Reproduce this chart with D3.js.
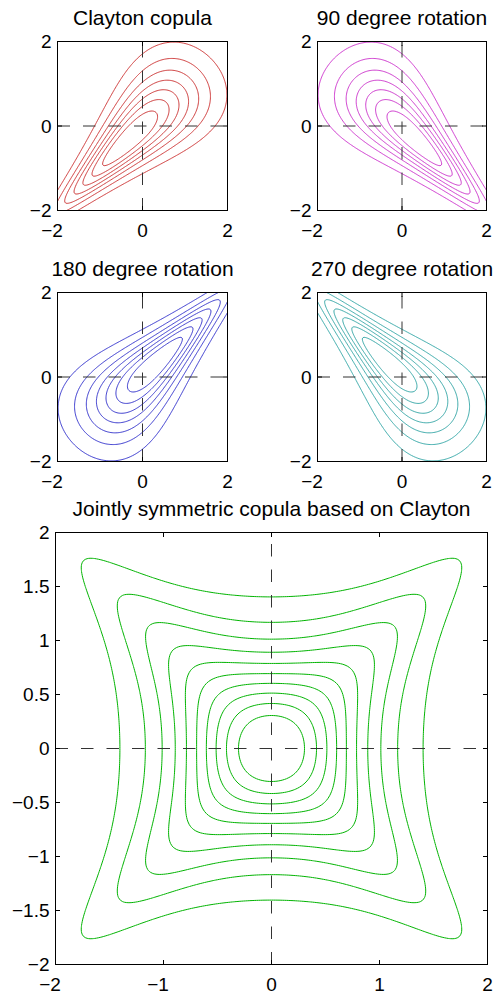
<!DOCTYPE html>
<html>
<head>
<meta charset="utf-8">
<script src="https://cdn.jsdelivr.net/npm/d3@7"></script>
<style>
  body { margin: 0; background: #fff; }
  text { font-family: "Liberation Sans", Helvetica, Arial, sans-serif; fill: #000; }
</style>
</head>
<body>
<div class="res"></div>
<script>
/**
 * DATA
 */
// Clayton copula parameter and the density levels drawn as contours
const theta = 2;
const smallLevels = [0.03, 0.06, 0.09, 0.12, 0.15, 0.18, 0.21];
const bigLevels = [0.03, 0.05, 0.07, 0.09, 0.11, 0.13, 0.15, 0.17, 0.19, 0.21];
// panel titles, rotations (sign flips of x and y) and colours
const titles = ['Clayton copula', '90 degree rotation', '180 degree rotation', '270 degree rotation'];
const flipX = [1, -1, -1, 1];
const flipY = [1, 1, -1, -1];
const colours = ['#cc3333', '#cc33cc', '#3333cc', '#33a6a6'];
const bigTitle = 'Jointly symmetric copula based on Clayton';
const bigColour = '#00b300';
// tick labels
const smallTicks = [-2, 0, 2];
const bigXTicks = [-2, -1, 0, 1, 2];
const bigYTicks = [-2, -1.5, -1, -0.5, 0, 0.5, 1, 1.5, 2];

/**
 * DENSITY (Clayton copula with standard normal margins)
 */
function erf(x) {
    const s = x < 0 ? -1 : 1;
    x = Math.abs(x);
    const t = 1 / (1 + 0.3275911 * x);
    const y = 1 - (((((1.061405429 * t - 1.453152027) * t) + 1.421413741) * t - 0.284496736) * t + 0.254829592) * t * Math.exp(-x * x);
    return s * y;
}
const Phi = x => 0.5 * (1 + erf(x / Math.SQRT2));
const phi = x => Math.exp(-x * x / 2) / Math.sqrt(2 * Math.PI);
function clayton(x, y) {
    const u = Phi(x), v = Phi(y);
    const c = (1 + theta) * Math.pow(u * v, -theta - 1) *
        Math.pow(Math.pow(u, -theta) + Math.pow(v, -theta) - 1, -2 - 1 / theta);
    return c * phi(x) * phi(y);
}

// grid a bit wider than the axes, the overflow is clipped away
const g0 = -2.1, step = 0.02, n = 211;
function grid(fn) {
    const values = new Array(n * n);
    for (let j = 0; j < n; j++)
        for (let i = 0; i < n; i++)
            values[j * n + i] = fn(g0 + i * step, g0 + j * step);
    return values;
}

/**
 * SVG
 */
const W = 493, H = 996;
const svg = d3.select('div.res')
    .append('svg')
    .attr('width', W)
    .attr('height', H);

const defs = svg.append('defs');

/**
 * DRAW ONE PANEL
 */
function panel(id, box, values, levels, colour, title, xTicks, yTicks, titleY, xLabelY) {
    const xScale = d3.scaleLinear().domain([-2, 2]).range([box.x0, box.x1]);
    const yScale = d3.scaleLinear().domain([-2, 2]).range([box.y1, box.y0]);

    defs.append('clipPath').attr('id', 'clip' + id)
        .append('rect')
        .attr('x', box.x0).attr('y', box.y0)
        .attr('width', box.x1 - box.x0).attr('height', box.y1 - box.y0);

    const g = svg.append('g');

    // contours
    const contours = d3.contours().size([n, n]).thresholds(levels)(values);
    const line = d3.line()
        .x(p => xScale(g0 + (p[0] - 0.5) * step))
        .y(p => yScale(g0 + (p[1] - 0.5) * step));
    const rings = [];
    contours.forEach(c => c.coordinates.forEach(poly => poly.forEach(r => rings.push(r))));
    g.append('g')
        .attr('clip-path', `url(#clip${id})`)
        .selectAll('path')
        .data(rings)
        .enter().append('path')
        .attr('d', r => line(r) + 'Z')
        .attr('fill', 'none')
        .attr('stroke', colour)
        .attr('stroke-width', 1);

    // dashed axes through zero
    g.append('line')
        .attr('x1', box.x0).attr('x2', box.x1)
        .attr('y1', yScale(0)).attr('y2', yScale(0))
        .attr('stroke', '#333').attr('stroke-dasharray', '12.5,13');
    g.append('line')
        .attr('x1', xScale(0)).attr('x2', xScale(0))
        .attr('y1', box.y1).attr('y2', box.y0)
        .attr('stroke', '#333').attr('stroke-dasharray', '12.5,13');

    // ticks (inward on all sides)
    const tl = 4.5;
    xTicks.forEach(t => {
        const x = xScale(t);
        g.append('line').attr('x1', x).attr('x2', x).attr('y1', box.y1).attr('y2', box.y1 - tl).attr('stroke', '#000');
        g.append('line').attr('x1', x).attr('x2', x).attr('y1', box.y0).attr('y2', box.y0 + tl).attr('stroke', '#000');
    });
    yTicks.forEach(t => {
        const y = yScale(t);
        g.append('line').attr('x1', box.x0).attr('x2', box.x0 + tl).attr('y1', y).attr('y2', y).attr('stroke', '#000');
        g.append('line').attr('x1', box.x1).attr('x2', box.x1 - tl).attr('y1', y).attr('y2', y).attr('stroke', '#000');
    });

    // box
    g.append('rect')
        .attr('x', box.x0).attr('y', box.y0)
        .attr('width', box.x1 - box.x0).attr('height', box.y1 - box.y0)
        .attr('fill', 'none').attr('stroke', '#000').attr('stroke-width', 1);

    // tick labels (the minus sign hangs left of the centred digits)
    const fmt = d => String(d).replace('-', '\u2212');
    g.selectAll('text.xl').data(xTicks).enter().append('text')
        .attr('class', 'xl')
        .attr('x', d => xScale(d) - (d < 0 ? 5.5 : 0))
        .attr('y', xLabelY)
        .attr('text-anchor', 'middle')
        .style('font-size', '19px')
        .text(fmt);
    g.selectAll('text.yl').data(yTicks).enter().append('text')
        .attr('class', 'yl')
        .attr('x', box.x0 - 6)
        .attr('y', d => yScale(d))
        .attr('dy', '0.36em')
        .attr('text-anchor', 'end')
        .style('font-size', '19px')
        .text(fmt);

    // title
    g.append('text')
        .attr('x', (box.x0 + box.x1) / 2)
        .attr('y', titleY)
        .attr('text-anchor', 'middle')
        .style('font-size', '21px')
        .text(title);
}

/**
 * LAYOUT
 */
const boxes = [
    { x0: 57.5, x1: 227.5, y0: 41.5, y1: 210.5 },
    { x0: 317.5, x1: 486.5, y0: 41.5, y1: 210.5 },
    { x0: 57.5, x1: 227.5, y0: 292.5, y1: 461.5 },
    { x0: 317.5, x1: 486.5, y0: 292.5, y1: 461.5 }
];
const titleYs = [25, 25, 276, 276];

titles.forEach((t, k) => {
    const values = grid((x, y) => clayton(flipX[k] * x, flipY[k] * y));
    panel(k, boxes[k], values, smallLevels, colours[k], t, smallTicks, smallTicks,
        titleYs[k], boxes[k].y1 + 26.5);
});

// jointly symmetric: average of the four rotations
const bigValues = grid((x, y) =>
    (clayton(x, y) + clayton(-x, y) + clayton(-x, -y) + clayton(x, -y)) / 4);
panel(4, { x0: 55.5, x1: 487.5, y0: 532.5, y1: 964.5 }, bigValues, bigLevels, bigColour,
    bigTitle, bigXTicks, bigYTicks, 516, 991);
</script>
</body>
</html>
